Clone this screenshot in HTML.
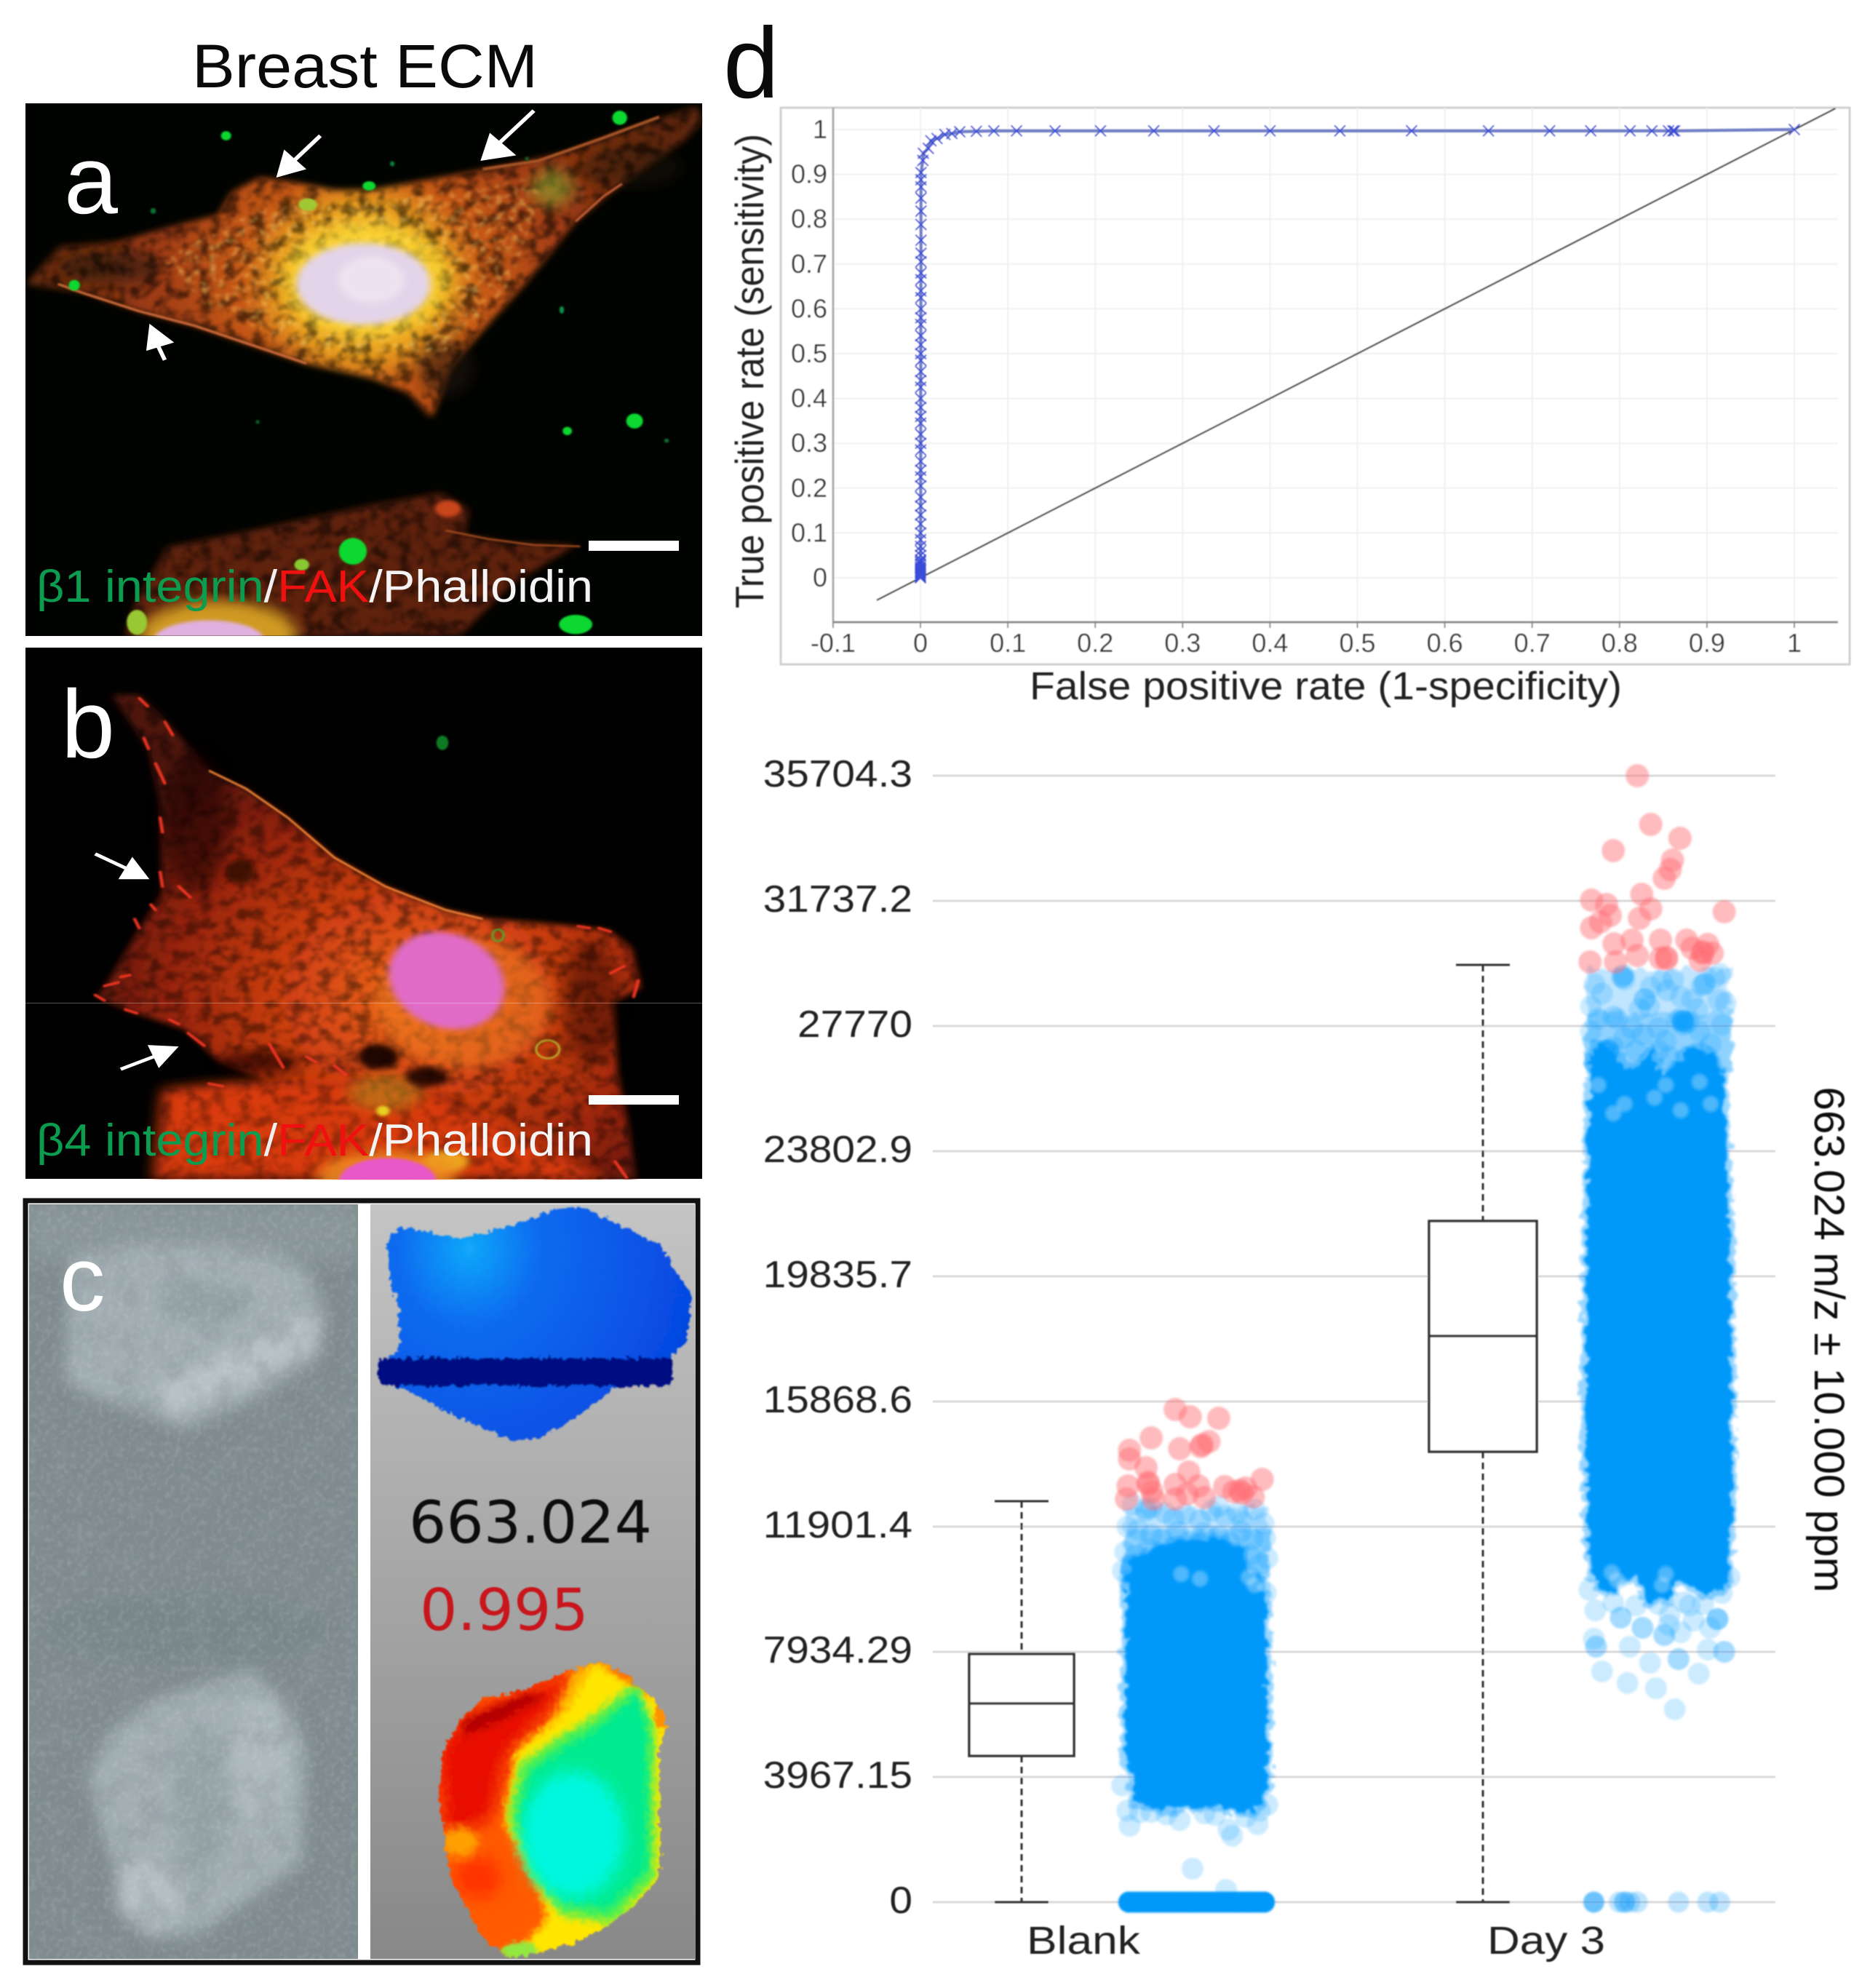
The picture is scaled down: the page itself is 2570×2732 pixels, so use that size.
<!DOCTYPE html>
<html lang="en">
<head>
<meta charset="utf-8">
<title>Breast ECM figure</title>
<style>
html,body{margin:0;padding:0;background:#fff;}
svg{display:block;}
text{font-family:"Liberation Sans",sans-serif;}
</style>
</head>
<body>
<svg id="fig" xmlns="http://www.w3.org/2000/svg" width="2570" height="2732" viewBox="0 0 2570 2732">
<defs>
<filter id="b1" x="-10%" y="-10%" width="120%" height="120%"><feGaussianBlur stdDeviation="1.3"/></filter>
<filter id="b2" x="-20%" y="-20%" width="140%" height="140%"><feGaussianBlur stdDeviation="2"/></filter>
<filter id="b4" x="-20%" y="-20%" width="140%" height="140%"><feGaussianBlur stdDeviation="4"/></filter>
<filter id="b8" x="-20%" y="-20%" width="140%" height="140%"><feGaussianBlur stdDeviation="8"/></filter>
<filter id="b16" x="-30%" y="-30%" width="160%" height="160%"><feGaussianBlur stdDeviation="16"/></filter>
<filter id="b30" x="-40%" y="-40%" width="180%" height="180%"><feGaussianBlur stdDeviation="30"/></filter>
<filter id="soft" x="-2%" y="-2%" width="104%" height="104%"><feGaussianBlur stdDeviation="0.8"/></filter>
<filter id="speck" x="0" y="0" width="100%" height="100%">
  <feTurbulence type="fractalNoise" baseFrequency="0.035" numOctaves="3" seed="4"/>
  <feColorMatrix values="0 0 0 0 0  0 0 0 0 0  0 0 0 0 0  3.4 0 0 0 -1.45"/>
  <feComposite in2="SourceAlpha" operator="in"/>
  <feGaussianBlur stdDeviation="3"/>
</filter>
<filter id="glow" x="0" y="0" width="100%" height="100%">
  <feTurbulence type="fractalNoise" baseFrequency="0.06" numOctaves="2" seed="9"/>
  <feColorMatrix values="0 0 0 0 1  0 0 0 0 0.7  0 0 0 0 0.15  3 0 0 0 -1.5"/>
  <feComposite in2="SourceAlpha" operator="in"/>
  <feGaussianBlur stdDeviation="3"/>
</filter>
<filter id="grain" x="0" y="0" width="100%" height="100%">
  <feTurbulence type="fractalNoise" baseFrequency="0.09" numOctaves="4" seed="2"/>
  <feColorMatrix values="0 0 0 0 1  0 0 0 0 1  0 0 0 0 1  3 0 0 0 -1.35"/>
  <feComposite in2="SourceAlpha" operator="in"/>
  <feGaussianBlur stdDeviation="1"/>
</filter>
<filter id="grainDark" x="0" y="0" width="100%" height="100%">
  <feTurbulence type="fractalNoise" baseFrequency="0.02" numOctaves="3" seed="7"/>
  <feColorMatrix values="0 0 0 0 0.25  0 0 0 0 0.3  0 0 0 0 0.32  4 0 0 0 -1.8"/>
  <feComposite in2="SourceAlpha" operator="in"/>
  <feGaussianBlur stdDeviation="4"/>
</filter>
<filter id="rough" x="-6%" y="-6%" width="112%" height="112%">
  <feTurbulence type="fractalNoise" baseFrequency="0.08" numOctaves="2" seed="3" result="n"/>
  <feDisplacementMap in="SourceGraphic" in2="n" scale="20" xChannelSelector="R" yChannelSelector="G"/>
  <feGaussianBlur stdDeviation="1.6"/>
</filter>
<radialGradient id="gradA" gradientUnits="userSpaceOnUse" cx="780" cy="670" r="720">
  <stop offset="0" stop-color="#ffe650"/><stop offset=".24" stop-color="#e8a020"/>
  <stop offset=".36" stop-color="#c85a18"/><stop offset=".62" stop-color="#a03c12"/>
  <stop offset="1" stop-color="#5e2810"/>
</radialGradient>
<radialGradient id="gradB" gradientUnits="userSpaceOnUse" cx="900" cy="980" r="760">
  <stop offset="0" stop-color="#ef6a1a"/><stop offset=".35" stop-color="#d24212"/>
  <stop offset=".7" stop-color="#98240c"/><stop offset="1" stop-color="#501408"/>
</radialGradient>
<linearGradient id="gradC" x1="0" y1="0" x2="0" y2="1">
  <stop offset="0" stop-color="#c4c4c4"/><stop offset="1" stop-color="#888888"/>
</linearGradient>
<radialGradient id="gradBlue" gradientUnits="userSpaceOnUse" cx="1010" cy="110" r="500">
  <stop offset="0" stop-color="#12a8fa"/><stop offset=".3" stop-color="#0a6cf0"/><stop offset="1" stop-color="#0646e0"/>
</radialGradient>
<clipPath id="clipA"><rect x="55" y="247" width="1458" height="1275"/></clipPath>
<clipPath id="clipB"><rect x="55" y="20" width="1458" height="1470"/></clipPath>
<clipPath id="clipCL"><rect x="62" y="22" width="708" height="1490"/></clipPath>
<clipPath id="clipHeat"><polygon points="990,1040 1040,995 1130,980 1230,940 1290,925 1350,950 1420,1010 1437,1050 1420,1100 1422,1350 1370,1400 1300,1450 1240,1480 1100,1510 1040,1470 970,1350 945,1200 955,1100"/></clipPath>
</defs>

<rect width="2570" height="2732" fill="#ffffff"/>

<text x="264" y="120" font-size="84" textLength="475" lengthAdjust="spacingAndGlyphs" fill="#0a0a0a">Breast ECM</text>
<text x="994" y="134" font-size="138" fill="#0a0a0a">d</text>

<!-- PANEL A -->
<g>
<rect x="35" y="142" width="930" height="732" fill="#010301"/>
<g transform="scale(.638,.574)" clip-path="url(#clipA)">
  <g filter="url(#b8)">
    <polygon fill="url(#gradA)" points="55,680 130,590 250,580 380,540 470,515 500,460 560,425 650,440 720,455 800,455 950,425 1100,395 1220,365 1350,310 1500,255 1513,290 1470,340 1340,440 1240,530 1130,680 1040,790 970,880 930,1000 880,940 800,905 660,870 580,840 420,780 300,745 180,700"/>
  </g>
  <ellipse cx="240" cy="640" rx="110" ry="40" fill="#201808" opacity=".6" filter="url(#b16)"/>
  <ellipse cx="1360" cy="400" rx="110" ry="50" fill="#201808" opacity=".45" filter="url(#b16)"/>
  <ellipse cx="960" cy="880" rx="60" ry="70" fill="#201808" opacity=".55" filter="url(#b16)"/>
  <polygon filter="url(#speck)" opacity=".55" points="55,680 130,590 250,580 380,540 470,515 500,460 560,425 650,440 720,455 800,455 950,425 1100,395 1220,365 1350,310 1500,255 1513,290 1470,340 1340,440 1240,530 1130,680 1040,790 970,880 930,1000 880,940 800,905 660,870 580,840 420,780 300,745 180,700"/>
  <polygon filter="url(#glow)" opacity=".55" points="350,620 560,500 900,470 1180,420 1100,680 960,840 700,850 450,740"/>
  <ellipse cx="1190" cy="450" rx="45" ry="45" fill="#88b030" opacity=".55" filter="url(#b16)"/>
  <ellipse cx="790" cy="670" rx="180" ry="135" fill="#ffe030" opacity=".6" filter="url(#b16)"/>
  <ellipse cx="783" cy="680" rx="145" ry="98" fill="#e4d4ea" filter="url(#b8)"/>
  <ellipse cx="800" cy="670" rx="70" ry="55" fill="#f4eef4" opacity=".6" filter="url(#b8)"/>
  <polyline points="125,680 180,702 300,745 420,780 580,840 660,870" fill="none" stroke="#c86838" stroke-width="6" filter="url(#b2)"/>
  <polyline points="1040,405 1160,385 1300,330 1420,280" fill="none" stroke="#a85428" stroke-width="7" filter="url(#b2)"/>
  <polyline points="1240,530 1300,470 1340,440" fill="none" stroke="#c86038" stroke-width="5" filter="url(#b2)"/>
  <g>
    <polygon filter="url(#b8)" fill="#5e240c" points="270,1522 290,1450 360,1310 500,1280 800,1210 950,1180 1010,1220 1000,1280 1100,1300 1240,1305 1100,1400 990,1522"/>
    <polygon filter="url(#speck)" opacity=".5" points="270,1522 290,1450 360,1310 500,1280 800,1210 950,1180 1010,1220 1000,1280 1100,1300 1240,1305 1100,1400 990,1522"/>
    <ellipse cx="470" cy="1522" rx="170" ry="85" fill="#d09a20" filter="url(#b16)"/>
    <ellipse cx="450" cy="1535" rx="120" ry="50" fill="#e0b0e0" filter="url(#b4)"/>
    <polyline points="960,1270 1050,1290 1150,1305 1250,1308" fill="none" stroke="#a85020" stroke-width="4" filter="url(#b2)"/>
    <ellipse cx="965" cy="1218" rx="28" ry="20" fill="#c8441c" filter="url(#b4)"/>
  </g>
  <g fill="#10d830" filter="url(#b2)">
    <ellipse cx="1335" cy="282" rx="16" ry="17"/><ellipse cx="487" cy="325" rx="11" ry="11"/>
    <ellipse cx="795" cy="445" rx="14" ry="11"/><ellipse cx="663" cy="490" rx="20" ry="15" fill="#a0c830"/>
    <ellipse cx="160" cy="683" rx="12" ry="13"/><ellipse cx="1367" cy="1008" rx="18" ry="18"/>
    <ellipse cx="1222" cy="1032" rx="10" ry="10"/><ellipse cx="760" cy="1320" rx="30" ry="32"/>
    <ellipse cx="1240" cy="1495" rx="36" ry="23"/><ellipse cx="295" cy="1490" rx="22" ry="30" fill="#98c830"/>
    <ellipse cx="650" cy="1352" rx="16" ry="14" fill="#88c830"/>
    <ellipse cx="1210" cy="742" rx="5" ry="9" fill="#109048"/><ellipse cx="845" cy="392" rx="5" ry="6" fill="#108038"/>
    <ellipse cx="330" cy="505" rx="6" ry="7" fill="#0c7030"/><ellipse cx="1436" cy="1055" rx="5" ry="5" fill="#0c7030"/>
    <ellipse cx="1135" cy="380" rx="4" ry="5" fill="#0c6028"/><ellipse cx="555" cy="1010" rx="4" ry="5" fill="#0c6028"/>
  </g>
  <g stroke="#ffffff" fill="#ffffff">
    <line x1="1150" y1="265" x2="1075" y2="343" stroke-width="9"/><polygon points="1035,385 1055,318 1112,372" stroke="none"/>
    <line x1="690" y1="325" x2="630" y2="388" stroke-width="9"/><polygon points="595,425 612,358 660,405" stroke="none"/>
    <line x1="355" y1="862" x2="337" y2="820" stroke-width="9"/><polygon points="322,775 375,820 315,840" stroke="none"/>
  </g>
</g>
<rect x="809" y="743" width="124" height="14" fill="#ffffff"/>
<text x="88" y="293" font-size="133" fill="#ffffff">a</text>
<text x="50" y="827" font-size="62" textLength="765" lengthAdjust="spacingAndGlyphs"><tspan fill="#0c9c50">β1 integrin</tspan><tspan fill="#f0f0f0">/</tspan><tspan fill="#f01010">FAK</tspan><tspan fill="#f4f4f4">/Phalloidin</tspan></text>
</g>

<!-- PANEL B -->
<g>
<rect x="35" y="890" width="930" height="730" fill="#010101"/>
<g transform="translate(0,880) scale(.638,.4974)" clip-path="url(#clipB)">
  <g filter="url(#b8)">
    <polygon fill="url(#gradB)" points="240,150 300,150 370,240 450,360 530,410 620,490 720,600 830,680 960,745 1050,770 1200,785 1310,800 1360,850 1380,960 1320,1000 1330,1200 1350,1320 1370,1490 1190,1490 1000,1280 900,1240 760,1230 600,1230 470,1160 400,1075 280,1025 210,985 230,950 300,800 350,700 345,450 320,300"/>
  </g>
  <polygon filter="url(#speck)" opacity=".42" points="240,150 300,150 370,240 450,360 530,410 620,490 720,600 830,680 960,745 1050,770 1200,785 1310,800 1360,850 1380,960 1320,1000 1330,1200 1350,1320 1370,1490 1190,1490 1000,1280 900,1240 760,1230 600,1230 470,1160 400,1075 280,1025 210,985 230,950 300,800 350,700 345,450 320,300"/>
  <ellipse cx="520" cy="640" rx="30" ry="35" fill="#2a0804" opacity=".8" filter="url(#b8)"/>
  <ellipse cx="420" cy="500" rx="70" ry="200" fill="#180602" opacity=".5" filter="url(#b16)"/>
  <ellipse cx="1270" cy="1000" rx="60" ry="170" fill="#180602" opacity=".4" filter="url(#b16)"/>
  <g>
    <polygon filter="url(#b16)" fill="#d83a10" points="350,1240 500,1220 760,1210 900,1220 1000,1280 1100,1350 1300,1490 330,1490"/>
    <polygon filter="url(#speck)" opacity=".3" points="350,1240 500,1220 760,1210 900,1220 1000,1280 1100,1350 1300,1490 330,1490"/>
    <ellipse cx="830" cy="1250" rx="80" ry="50" fill="#a8a020" opacity=".45" filter="url(#b16)"/>
    <ellipse cx="825" cy="1300" rx="14" ry="14" fill="#e8d020" filter="url(#b4)"/>
    <ellipse cx="960" cy="1440" rx="50" ry="30" fill="#f0b020" opacity=".9" filter="url(#b8)"/>
    <ellipse cx="835" cy="1480" rx="150" ry="70" fill="#f09020" opacity=".85" filter="url(#b16)"/>
    <ellipse cx="835" cy="1495" rx="105" ry="65" fill="#e858c8" filter="url(#b4)"/>
  </g>
  <ellipse cx="815" cy="1150" rx="45" ry="35" fill="#100402" opacity=".9" filter="url(#b8)"/>
  <ellipse cx="920" cy="1205" rx="45" ry="28" fill="#100402" opacity=".85" filter="url(#b8)"/>
  <ellipse cx="560" cy="1165" rx="90" ry="30" fill="#1a0604" opacity=".7" filter="url(#b16)"/>
  <polyline points="450,360 530,410 620,490 720,600 830,680 960,745 1040,770" fill="none" stroke="#f88a38" stroke-width="5" filter="url(#b2)"/>
  <ellipse cx="1000" cy="1000" rx="190" ry="180" fill="#f08020" opacity=".5" filter="url(#b16)"/>
  <ellipse cx="962" cy="940" rx="118" ry="140" transform="rotate(-32 962 940)" fill="#e06cc8" filter="url(#b8)"/>
  <ellipse cx="1073" cy="815" rx="12" ry="16" fill="none" stroke="#40b830" stroke-width="4" filter="url(#b2)"/>
  <ellipse cx="1180" cy="1130" rx="25" ry="25" fill="none" stroke="#b8c030" stroke-width="4" filter="url(#b2)"/>
  <ellipse cx="953" cy="283" rx="13" ry="20" fill="#0c7a20" filter="url(#b2)"/>
  <g stroke="#ee3420" stroke-width="7" stroke-linecap="round" filter="url(#b2)">
    <line x1="300" y1="160" x2="318" y2="182"/><line x1="355" y1="225" x2="372" y2="262"/>
    <line x1="310" y1="270" x2="320" y2="300"/><line x1="335" y1="340" x2="355" y2="395"/>
    <line x1="345" y1="490" x2="350" y2="530"/><line x1="345" y1="640" x2="350" y2="680"/>
    <line x1="385" y1="680" x2="410" y2="710"/><line x1="325" y1="730" x2="335" y2="745"/>
    <line x1="290" y1="770" x2="300" y2="795"/><line x1="225" y1="955" x2="255" y2="945"/>
    <line x1="260" y1="930" x2="280" y2="925"/><line x1="205" y1="980" x2="225" y2="995"/>
    <line x1="270" y1="1020" x2="295" y2="1030"/><line x1="365" y1="1048" x2="385" y2="1060"/>
    <line x1="405" y1="1085" x2="440" y2="1120"/><line x1="580" y1="1115" x2="610" y2="1180"/>
    <line x1="1245" y1="790" x2="1270" y2="795"/><line x1="1290" y1="795" x2="1315" y2="805"/>
    <line x1="1315" y1="920" x2="1345" y2="900"/><line x1="1375" y1="940" x2="1365" y2="985"/>
    <line x1="1325" y1="1440" x2="1350" y2="1485"/><line x1="660" y1="1150" x2="680" y2="1165"/>
    <line x1="720" y1="1175" x2="745" y2="1200"/><line x1="450" y1="1225" x2="480" y2="1232"/>
  </g>
  <g stroke="#ffffff" fill="#ffffff">
    <line x1="205" y1="590" x2="280" y2="635" stroke-width="9"/><polygon points="322,660 255,660 285,598" stroke="none"/>
    <line x1="260" y1="1185" x2="340" y2="1146" stroke-width="9"/><polygon points="385,1122 342,1182 318,1118" stroke="none"/>
  </g>
</g>
<rect x="35" y="1378" width="930" height="1" fill="#ffffff" opacity=".3"/>
<rect x="809" y="1505" width="124" height="13" fill="#ffffff"/>
<text x="84" y="1041" font-size="133" fill="#ffffff">b</text>
<text x="50" y="1588" font-size="62" textLength="765" lengthAdjust="spacingAndGlyphs"><tspan fill="#0c9c50">β4 integrin</tspan><tspan fill="#f0f0f0">/</tspan><tspan fill="#f01010">FAK</tspan><tspan fill="#f4f4f4">/Phalloidin</tspan></text>
</g>

<!-- PANEL C -->
<g>
<rect x="35" y="1650" width="924" height="1047" fill="#ffffff" stroke="#111111" stroke-width="7"/>
<rect x="40" y="1655" width="452" height="1037" fill="#7f8b8e"/>
<rect x="509" y="1655" width="447" height="1037" fill="url(#gradC)"/>
<g transform="translate(0,1640) scale(.638,.6964)">
  <g clip-path="url(#clipCL)">
    <g filter="url(#b16)">
      <rect x="62" y="22" width="708" height="110" fill="#8a9698"/>
      <polygon fill="#a2aeb2" points="150,130 260,105 400,100 560,110 660,150 700,230 690,320 560,400 400,465 330,440 200,400 140,370"/>
      <ellipse cx="440" cy="215" rx="100" ry="40" fill="#8f9c9e" opacity=".7"/>
      <polygon fill="#b8c3c6" points="340,380 520,300 690,230 680,300 500,390 360,440"/>
      <polygon fill="#a2aeb2" points="240,1060 330,1000 470,960 540,940 620,1010 660,1100 650,1320 560,1380 430,1460 320,1470 270,1400 220,1260 190,1150"/>
      <ellipse cx="430" cy="1210" rx="55" ry="150" fill="#93a0a3" opacity=".75"/>
      <ellipse cx="320" cy="1380" rx="70" ry="70" fill="#b4bfc3"/>
      <ellipse cx="560" cy="1120" rx="60" ry="130" fill="#aebabe"/>
      <ellipse cx="400" cy="860" rx="300" ry="60" fill="#78868a"/>
    </g>
    <rect x="62" y="22" width="708" height="1490" filter="url(#grainDark)" opacity=".35"/>
    <rect x="62" y="22" width="708" height="1490" filter="url(#grain)" opacity=".1"/>
  </g>
  <g filter="url(#rough)">
    <polygon fill="url(#gradBlue)" points="835,100 860,68 920,75 990,90 1100,65 1200,30 1260,30 1330,60 1420,100 1490,200 1480,290 1440,330 1330,380 1260,430 1170,480 1100,490 1050,465 960,430 880,390 815,370 815,340 860,310 860,220 840,170"/>
    <rect x="815" y="325" width="633" height="55" rx="12" fill="#000a82"/>
  </g>
  <g filter="url(#rough)">
  <g clip-path="url(#clipHeat)">
    <rect x="930" y="920" width="520" height="600" fill="#ff5a00"/>
    <polygon fill="#e80a00" filter="url(#b16)" points="990,1040 1130,980 1250,950 1180,1020 1090,1110 1060,1230 960,1280 945,1100"/>
    <polygon fill="#b00000" filter="url(#b8)" points="1000,1040 1130,990 1180,990 1080,1040 1000,1070"/>
    <ellipse cx="1030" cy="1350" rx="50" ry="40" fill="#ff3000" filter="url(#b16)"/>
    <polygon fill="#ffb000" filter="url(#b8)" points="1240,930 1320,930 1250,1010 1180,1060"/>
    <ellipse cx="990" cy="1280" rx="40" ry="30" fill="#ffa000" filter="url(#b8)"/>
    <polygon fill="#ffe600" filter="url(#b8)" points="1280,925 1440,1010 1440,1360 1310,1480 1090,1520 1180,1430 1150,1350 1085,1240 1110,1100 1220,1020"/>
    <polygon fill="#50f050" filter="url(#b8)" points="1120,1125 1200,1075 1280,1030 1370,965 1410,1050 1412,1350 1320,1440 1210,1425 1140,1345 1095,1230"/>
    <polygon fill="#00ea90" filter="url(#b8)" points="1140,1140 1210,1095 1290,1050 1375,985 1395,1060 1395,1335 1310,1415 1215,1400 1150,1330 1115,1230"/>
    <ellipse cx="1235" cy="1265" rx="110" ry="125" fill="#00f8e0" filter="url(#b16)"/>
    <ellipse cx="1120" cy="1495" rx="40" ry="18" fill="#90e840" filter="url(#b4)"/>
    <ellipse cx="1425" cy="1030" rx="14" ry="30" fill="#ff9000" filter="url(#b2)"/>
  </g>
  </g>
</g>
<text x="82" y="1801" font-size="125" fill="#ffffff">c</text>
<text x="562" y="2120" font-size="80" textLength="334" lengthAdjust="spacingAndGlyphs" fill="#111111" style="font-family:'DejaVu Sans',sans-serif" filter="url(#soft)">663.024</text>
<text x="577" y="2240" font-size="79" textLength="232" lengthAdjust="spacingAndGlyphs" fill="#c8141e" style="font-family:'DejaVu Sans',sans-serif" filter="url(#soft)">0.995</text>
</g>

<!-- PANEL D -->
<g id="roc" filter="url(#soft)">
  <rect x="1073" y="148" width="1469" height="765" fill="#ffffff" stroke="#cfcfcf" stroke-width="3"/>
</g>
<g id="strip" filter="url(#soft)"></g>

<script>
/* ---------- ROC chart data ---------- */
var rocXTicks = [-0.1, 0, 0.1, 0.2, 0.3, 0.4, 0.5, 0.6, 0.7, 0.8, 0.9, 1];
var rocYTicks = [0, 0.1, 0.2, 0.3, 0.4, 0.5, 0.6, 0.7, 0.8, 0.9, 1];
var rocTickLabelsX = ["-0.1", "0", "0.1", "0.2", "0.3", "0.4", "0.5", "0.6", "0.7", "0.8", "0.9", "1"];
var rocTickLabelsY = ["0", "0.1", "0.2", "0.3", "0.4", "0.5", "0.6", "0.7", "0.8", "0.9", "1"];
var rocFpr = [
  0,0,0,0,0,0,0,0,0,0,
  0.0002,0.0002,0.0002,0.0002,0.0002,0.0002,0.0002,0.0002,
  0.0003,0.0003,0.0003,0.0003,0.0003,0.0003,0.0003,0.0003,0.0003,0.0003,0.0003,0.0003,0.0003,0.0003,0.0003,
  0.0004,0.0004,0.0004,0.0004,0.0004,0.0004,0.0004,
  0.0005,0.0005,0.0005,0.0005,
  0.0006,0.0006,0.0006,0.0006,0.0006,0.0006,0.0006,0.0006,0.0006,0.0006,
  0.0028,0.0033,0.009,0.012,0.019,0.028,0.036,0.045,0.064,0.084,0.11,
  0.154,0.206,0.267,0.336,0.40,0.48,0.562,0.65,0.72,0.767,0.812,0.837,0.856,0.861,0.863,1.0];
var rocTpr = [
  0,0.003,0.006,0.01,0.013,0.016,0.02,0.024,0.03,0.035,
  0.04,0.05,0.06,0.07,0.085,0.1,0.12,0.14,
  0.16,0.18,0.205,0.225,0.24,0.26,0.285,0.3,0.32,0.345,0.36,0.38,0.4,0.425,0.44,
  0.46,0.485,0.5,0.52,0.54,0.565,0.58,
  0.6,0.625,0.64,0.665,
  0.68,0.705,0.724,0.753,0.788,0.818,0.847,0.872,0.888,0.904,
  0.931,0.947,0.958,0.975,0.98,0.989,0.991,0.995,0.996,0.997,0.997,
  0.997,0.997,0.997,0.997,0.997,0.997,0.997,0.997,0.997,0.997,0.997,0.997,0.997,0.997,0.997,1.0];
var rocDiagonal = [-0.05, 1.047];

/* ---------- Strip chart data ---------- */
var stripCategories = ["Blank", "Day 3"];
var intensityTicks = [0, 3967.15, 7934.29, 11901.4, 15868.6, 19835.7, 23802.9, 27770, 31737.2, 35704.3];
var intensityTickLabels = ["0", "3967.15", "7934.29", "11901.4", "15868.6", "19835.7", "23802.9", "27770", "31737.2", "35704.3"];
var boxBlank = {whiskerHigh: 12708, q3: 7865, median: 6297, q1: 4636, whiskerLow: 0};
var boxDay3 = {whiskerHigh: 29707, q3: 21588, median: 17944, q1: 14277, whiskerLow: 0};

var blankOutliers = [[-.28,15615],[-.08,15384],[.30,15338],[-.60,14715],[.17,14600],[.06,14439],[-.22,14370],[-.89,14323],[-.89,14047],[-.67,13770],[-.10,13631],[.88,13401],[-.64,13309],[-.91,13193],[-.28,13239],[.03,13193],[.38,13170],[.66,13124],[-.59,13009],[.50,13009],[.61,12963],[.11,12824],[-.12,12940],[-.93,12778],[-.28,12778],[.76,12847],[-.57,12778],[-.64,13250],[.08,14500],[.58,13050]];
var day3Outliers = [[-.28,35704],[-.10,34160],[.29,33721],[-.60,33329],[.19,33029],[.16,32729],[.08,32452],[-.22,31945],[-.89,31761],[-.69,31622],[-.10,31484],[.88,31391],[-.64,31276],[-.77,31069],[-.25,31184],[-.89,30884],[-.35,30492],[.03,30492],[-.59,30377],[.38,30492],[.66,30354],[.45,30238],[.59,30077],[.72,30077],[.11,29892],[-.28,30008],[-.57,29800],[-.91,29800],[.03,29915],[.56,29846],[.60,30120],[.11,29950]];

var blankCoreOutline = [[-.9,10817],[-.7,11048],[-.4,11394],[-.1,11440],[.2,11510],[.45,11440],[.6,11163],[.72,10471],[.86,10240],[.92,9549],[.95,7242],[.95,4013],[.92,3421],[.82,2960],[.6,2868],[.4,2960],[.2,3098],[0,2960],[-.2,3052],[-.4,2914],[-.6,3006],[-.82,3190],[-.86,4128],[-.95,4475],[-.95,7242],[-.93,9549]];
var day3CoreOutline = [[-.9,26848],[-.8,27240],[-.6,27078],[-.45,26356],[-.25,26502],[-.1,26963],[.05,26125],[.25,26617],[.45,27078],[.7,26963],[.86,26156],[.9,24311],[.95,21081],[.97,16468],[.97,12086],[.93,10110],[.82,9880],[.6,9764],[.45,9995],[.25,10225],[.15,9649],[-.15,9533],[-.3,10340],[-.5,9995],[-.7,9764],[-.88,10340],[-.94,11855],[-.97,15315],[-.95,21081],[-.92,24311]];
var blankHaloOutlines = [[[-.95,12500],[.95,12500],[.98,10000],[-.98,10000]], [[-.97,11800],[.97,11800],[.98,10200],[-.98,10200]]];
var day3HaloOutlines = [[[-.95,29600],[.95,29600],[.98,26300],[-.98,26300]], [[-.95,28200],[.95,28200],[.98,26300],[-.98,26300]]];

var blankFringe = [[-.85,12600],[-.67,12480],[-.67,12400],[-.6,12500],[-.42,12350],[-.3,12150],[-.15,12300],[.05,12100],[.2,12400],[.3,12550],[.38,12250],[.55,12350],[.62,12050],[.78,12450],[.9,12000],[-.92,11900],[-.78,11800],[-.6,11650],[-.45,11500],[-.25,11750],[-.08,11450],[.1,11700],[.3,11600],[.45,11400],[.6,11750],[.75,11500],[.92,11550],[-.95,11100],[-.82,11000],[-.65,11200],[-.5,10900],[-.35,11050],[-.12,10850],[.05,11150],[.22,10950],[.38,11100],[.55,10800],[.72,11000],[.85,10700],[.95,10900],[-.98,10500],[-.9,10200],[.72,10300],[.85,10000],[.93,9800],[.7,9950],
 [-.89,2420],[-.22,2600],[.43,2300],[.82,2470],[-.6,2860],[.11,2810],[.66,2700],[.95,3090],[-.99,3700],[-.92,2900],[.48,2100],[-.4,2780],[.25,2760],[.85,2900],[-.75,2850]];
var blankSparse = [[-.05,1060],[.4,390]];
var blankGaps = [[.7,10300],[.78,10050],[-.2,10400],[.05,10250]];
var blankZeros = [-.90,-.85,-.79,-.74,-.68,-.62,-.57,-.51,-.45,-.40,-.34,-.28,-.23,-.17,-.11,-.06,0,.05,.11,.17,.22,.28,.34,.39,.45,.51,.56,.62,.68,.73,.79,.85,.91];

var day3Fringe = [[-.48,29320],[-.48,29320],[-.46,29400],[-.45,29250],[.62,29110],[.62,29110],[.58,29050],[.82,29430],[.75,29300],[.33,27930],[.33,27930],[.33,27930],[.33,27930],[.25,27950],[.4,27900],[.30,28020],[.36,27850],[.33,27800],[-.67,27010],[-.67,27010],[-.67,27010],[-.6,27100],[-.72,26950],[-.18,28620],[-.18,28620],[-.12,28400],[-.6,28070],[-.55,28000],[-.25,28300],[-.1,29000],[.05,29200],[.12,28900],[.2,29250],[.3,28700],[.45,28600],[.52,28300],[-.85,29100],[-.75,28800],[-.9,28400],[-.8,28000],[-.9,27600],[-.35,27700],[-.2,27500],[0,27700],[.1,27300],[.55,27600],[.7,27200],[.85,27800],[.9,28500],[.8,28600],[-.45,27400],[-.3,27000],[0,27000],[.15,26800],
 [-.86,8350],[-.83,8096],[-.83,8096],[-.38,8096],[-.75,7312],[-.41,6943],[-.11,7588],[-.03,6781],[.22,6112],[.27,7704],[.27,7704],[.54,7242],[.88,7934],[.88,7934],[.66,8004],[.79,8972],[.79,8972],[.79,8972],[-.50,9018],[-.50,9018],[-.21,8696],[-.21,8696],[.08,8465],[.08,8465],[.30,8557],[-.84,9249],[.14,8788],[.47,8926],[.69,8696],[-.6,9500],[-.3,9400],[0,9450],[.35,9500],[.6,9450],[.85,9800],[-.92,9900],[.95,10300],[.15,9100],[.42,9400]];
var day3Gaps = [[-.6,25000],[-.45,25300],[.1,25900],[-.05,25500],[.55,26000],[.7,25300],[-.8,25900],[.3,25100],[-.55,10200],[-.45,10000],[.05,10050],[.1,10400],[-.62,10450]];
var day3Zeros = [-.86,-.86,-.86,-.52,-.45,-.45,-.38,-.28,.27,.66,.82];

/* ---------- Scales ---------- */
var SVGNS = "http://www.w3.org/2000/svg";
function mk(tag, attrs, parent, txt) {
  var el = document.createElementNS(SVGNS, tag);
  for (var k in attrs) { el.setAttribute(k, attrs[k]); }
  if (txt !== undefined) { el.textContent = txt; }
  parent.appendChild(el);
  return el;
}
function rocX(v) { return 1265 + v * 1201; }
function rocY(v) { return 794 - v * 616; }
function intensityY(v) { return 2614 - v * 1548 / 35704.3; }
function jitterX(center, j) { return center + j * 103; }
function catCenter(i) { return 1644 + i * 635; }
function boxCenter(i) { return 1404 + i * 634; }
function labelWidth(s) { var w = 0; for (var i = 0; i < s.length; i++) { w += s[i] === "." ? 15.8 : 31.6; } return w; }

/* ---------- ROC drawing ---------- */
var roc = document.getElementById("roc");
rocXTicks.forEach(function (t, i) {
  var gx = mk("line", {x1: rocX(t), x2: rocX(t), y1: 148, y2: 855, stroke: "#f0f0f0", "stroke-width": 2}, roc);
  
  
  var tick = mk("line", {x1: rocX(t), x2: rocX(t), y1: 855, y2: 863, stroke: "#888888", "stroke-width": 2}, roc);
  
  
  var lab = mk("text", {x: rocX(t), y: 896, "font-size": 36, "text-anchor": "middle", fill: "#333333"}, roc, rocTickLabelsX[i]);
  
  
});
rocYTicks.forEach(function (t, i) {
  var gy = mk("line", {x1: 1145, x2: 2526, y1: rocY(t), y2: rocY(t), stroke: "#f0f0f0", "stroke-width": 2}, roc);
  
  
  var lab = mk("text", {x: 1137, y: rocY(t) + 12, "font-size": 36, "text-anchor": "end", fill: "#333333"}, roc, rocTickLabelsY[i]);
  
  
});
var axY = mk("line", {x1: 1145, x2: 1145, y1: 148, y2: 855, stroke: "#aaaaaa", "stroke-width": 3}, roc);


var axX = mk("line", {x1: 1145, x2: 2526, y1: 855, y2: 855, stroke: "#888888", "stroke-width": 3}, roc);


var diag = mk("line", {x1: rocX(rocDiagonal[0]), y1: rocY(rocDiagonal[0]), x2: rocX(rocDiagonal[1]), y2: rocY(rocDiagonal[1]), stroke: "#444444", "stroke-width": 2.4}, roc);


var rocPts = rocFpr.map(function (f, i) { return rocX(f) + "," + rocY(rocTpr[i]); }).join(" ");
var rocLine = mk("polyline", {points: rocPts, fill: "none", stroke: "#7280c8", "stroke-width": 4.5}, roc);


rocFpr.forEach(function (f, i) {
  var cx = rocX(f), cy = rocY(rocTpr[i]), s = 7.5;
  var m = mk("path", {d: "M" + (cx - s) + " " + (cy - s) + "L" + (cx + s) + " " + (cy + s) + "M" + (cx - s) + " " + (cy + s) + "L" + (cx + s) + " " + (cy - s), stroke: "#3a4ed8", "stroke-width": 2, fill: "none"}, roc);
  
  
});
var rocXT = mk("text", {x: 1415, y: 961, "font-size": 54, textLength: 814, lengthAdjust: "spacingAndGlyphs", fill: "#222222"}, roc, "False positive rate (1-specificity)");


var rocYT = mk("text", {x: 0, y: 0, "font-size": 55, textLength: 652, lengthAdjust: "spacingAndGlyphs", "text-anchor": "middle", transform: "translate(1049,510) rotate(-90)", fill: "#222222"}, roc, "True positive rate (sensitivity)");



/* ---------- Strip chart drawing ---------- */
var strip = document.getElementById("strip");
intensityTicks.forEach(function (t, i) {
  var g = mk("line", {x1: 1282, x2: 2440, y1: intensityY(t), y2: intensityY(t), stroke: "#d8d8d8", "stroke-width": 3}, strip);
  
  
  var lab = mk("text", {x: 1254, y: intensityY(t) + 15, "font-size": 52, "text-anchor": "end", textLength: labelWidth(intensityTickLabels[i]), lengthAdjust: "spacingAndGlyphs", fill: "#222222"}, strip, intensityTickLabels[i]);
  
  
});
function outlinePts(center, arr) {
  return arr.map(function (p) { return jitterX(center, p[0]) + "," + intensityY(p[1]); }).join(" ");
}
function drawBox(i, b) {
  var cx = boxCenter(i), hw = i === 0 ? 72 : 74, cap = 37;
  var w1 = mk("line", {x1: cx, x2: cx, y1: intensityY(b.whiskerHigh), y2: intensityY(b.q3), stroke: "#333333", "stroke-width": 3, "stroke-dasharray": "9 6"}, strip);
  
  
  var w2 = mk("line", {x1: cx, x2: cx, y1: intensityY(b.q1), y2: intensityY(b.whiskerLow), stroke: "#333333", "stroke-width": 3, "stroke-dasharray": "9 6"}, strip);
  
  
  var c1 = mk("line", {x1: cx - cap, x2: cx + cap, y1: intensityY(b.whiskerHigh), y2: intensityY(b.whiskerHigh), stroke: "#333333", "stroke-width": 3}, strip);
  
  
  var c2 = mk("line", {x1: cx - cap, x2: cx + cap, y1: intensityY(b.whiskerLow), y2: intensityY(b.whiskerLow), stroke: "#333333", "stroke-width": 3}, strip);
  
  
  var r = mk("rect", {x: cx - hw, width: hw * 2, y: intensityY(b.q3), height: intensityY(b.q1) - intensityY(b.q3), fill: "#ffffff", stroke: "#333333", "stroke-width": 3.5}, strip);
  
  
  var m = mk("line", {x1: cx - hw, x2: cx + hw, y1: intensityY(b.median), y2: intensityY(b.median), stroke: "#333333", "stroke-width": 3.5}, strip);
  
  
}
drawBox(0, boxBlank);
drawBox(1, boxDay3);

function drawMass(i, halos, core, fringe, gaps, outliers, zeros, zeroOpacity, extra) {
  var cx = catCenter(i);
  halos.forEach(function (outline) {
    var h = mk("polygon", {points: outlinePts(cx, outline), fill: "#0099ff", opacity: .25, filter: "url(#rough)"}, strip);
    
    
  });
  var pointsLayer = mk("g", {filter: "url(#b1)"}, strip);
  
  
  fringe.concat(extra).forEach(function (p) {
    var d = mk("circle", {cx: jitterX(cx, p[0]), cy: intensityY(p[1]), r: 15, fill: "#0099ff", opacity: .2}, pointsLayer);
    
    
  });
  var edge = mk("polygon", {points: outlinePts(cx, core), fill: "#0099ff", stroke: "#0099ff", "stroke-width": 14, opacity: .4, filter: "url(#rough)"}, strip);
  
  
  var c = mk("polygon", {points: outlinePts(cx, core), fill: "#0099fa", filter: "url(#rough)"}, strip);
  
  
  var gapLayer = mk("g", {filter: "url(#b2)"}, strip);
  
  
  gaps.forEach(function (p) {
    var d = mk("circle", {cx: jitterX(cx, p[0]), cy: intensityY(p[1]), r: 11, fill: "#ffffff", opacity: .3}, gapLayer);
    
    
  });
  var redLayer = mk("g", {filter: "url(#b1)"}, strip);
  
  
  outliers.forEach(function (p) {
    var d = mk("circle", {cx: jitterX(cx, p[0]), cy: intensityY(p[1]), r: 16, fill: "#ff6a72", opacity: .46}, redLayer);
    
    
  });
  zeros.forEach(function (j) {
    var d = mk("circle", {cx: jitterX(cx, j), cy: intensityY(0), r: 14.5, fill: "#0099fa", opacity: zeroOpacity}, pointsLayer);
    
    
  });
}
drawMass(0, blankHaloOutlines, blankCoreOutline, blankFringe, blankGaps, blankOutliers, blankZeros, 1, blankSparse);
drawMass(1, day3HaloOutlines, day3CoreOutline, day3Fringe, day3Gaps, day3Outliers, day3Zeros, .25, []);

var catLabelX = [1489, 2125];
var catLabelW = [156, 162];
stripCategories.forEach(function (name, i) {
  var t = mk("text", {x: catLabelX[i], y: 2685, "font-size": 54, "text-anchor": "middle", textLength: catLabelW[i], lengthAdjust: "spacingAndGlyphs", fill: "#222222"}, strip, name);
  
  
});
var yT = mk("text", {x: 0, y: 0, "font-size": 58, textLength: 695, lengthAdjust: "spacingAndGlyphs", "text-anchor": "middle", transform: "translate(2494,1841) rotate(90)", fill: "#111111"}, strip, "663.024 m/z ± 10.000 ppm");


</script>
</body>
</html>
